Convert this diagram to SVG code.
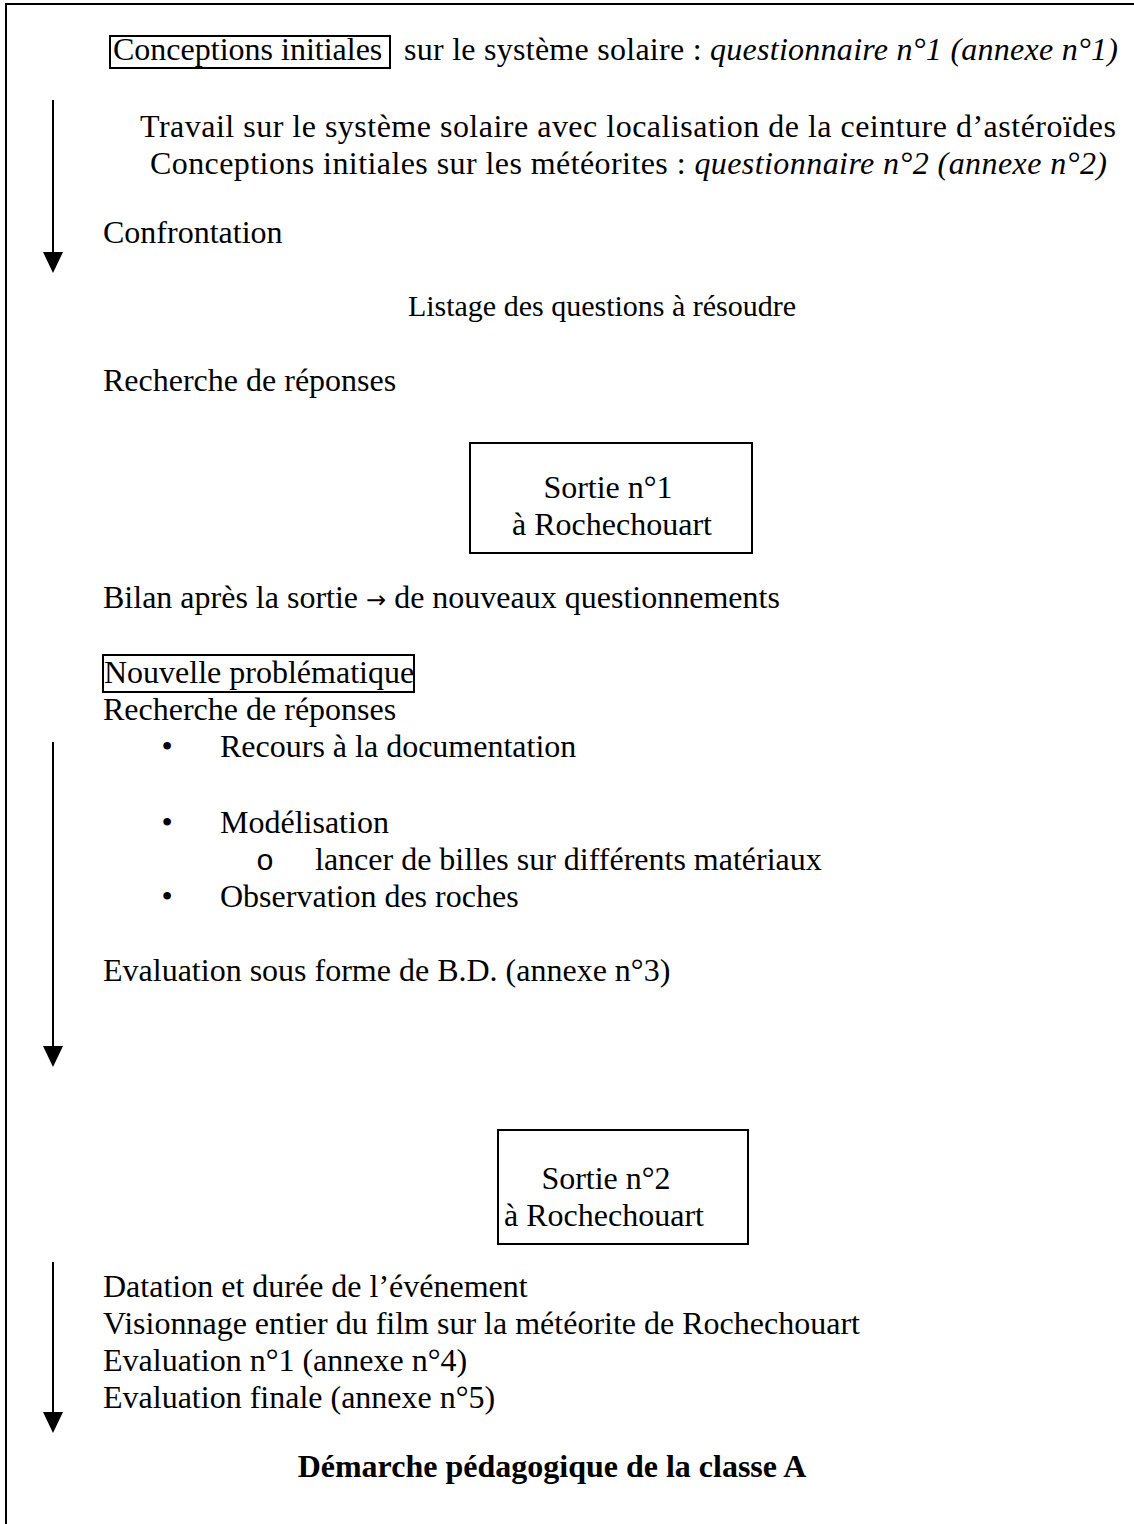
<svg xmlns="http://www.w3.org/2000/svg" width="1134" height="1524" viewBox="0 0 1134 1524">
<style>
text{font-family:"Liberation Serif","Times New Roman",serif;font-size:32px;fill:#000}
.i{font-style:italic}
.b{font-weight:bold}
.box{fill:none;stroke:#000;stroke-width:2}
.mid{text-anchor:middle}
.conn{stroke:#000;stroke-width:2;fill:none}
</style>
<defs>
<marker id="ah" markerUnits="userSpaceOnUse" markerWidth="21" markerHeight="20" refX="0" refY="10" orient="auto" viewBox="0 0 21 20">
<path d="M0,0 L21,10 L0,20 z" fill="#000"/>
</marker>
</defs>
<rect width="1134" height="1524" fill="#fff"/>
<path d="M6,1524 V4 H1134" class="conn" stroke-width="2.5"/>

<g id="connectors">
<line class="conn" x1="53" y1="100" x2="53" y2="252" marker-end="url(#ah)"/>
<line class="conn" x1="53" y1="742" x2="53" y2="1046" marker-end="url(#ah)"/>
<line class="conn" x1="53" y1="1262" x2="53" y2="1412" marker-end="url(#ah)"/>
</g>

<g id="n1">
<rect class="box" x="110" y="36" width="280" height="32"/>
<text x="113" y="60">Conceptions initiales</text>
<text x="404" y="60" textLength="714" lengthAdjust="spacing">sur le système solaire : <tspan class="i">questionnaire n°1 (annexe n°1)</tspan></text>
</g>
<g id="n2">
<text x="140" y="137" textLength="976" lengthAdjust="spacing">Travail sur le système solaire avec localisation de la ceinture d’astéroïdes</text>
<text x="150" y="174" textLength="957" lengthAdjust="spacing">Conceptions initiales sur les météorites : <tspan class="i">questionnaire n°2 (annexe n°2)</tspan></text>
</g>
<g id="n3"><text x="103" y="243">Confrontation</text></g>
<g id="n4"><text class="mid" x="602" y="316" style="font-size:30px">Listage des questions à résoudre</text></g>
<g id="n5"><text x="103" y="391">Recherche de réponses</text></g>
<g id="n6">
<rect class="box" x="470" y="443" width="282" height="110"/>
<text class="mid" x="608" y="498">Sortie n°1</text>
<text class="mid" x="612" y="535">à Rochechouart</text>
</g>
<g id="n7"><text x="103" y="608">Bilan après la sortie <tspan style="font-family:'DejaVu Sans',sans-serif;font-size:24px">→</tspan> de nouveaux questionnements</text></g>
<g id="n8">
<rect class="box" x="103" y="655" width="311" height="37"/>
<text x="104" y="683">Nouvelle problématique</text>
</g>
<g id="n9">
<text x="103" y="720">Recherche de réponses</text>
<text class="mid" x="167" y="757">•</text><text x="220" y="757">Recours à la documentation</text>
<text class="mid" x="167" y="833">•</text><text x="220" y="833">Modélisation</text>
<text class="mid" x="265" y="870" style="font-family:'Liberation Mono',monospace;font-size:30px">o</text><text x="315" y="870">lancer de billes sur différents matériaux</text>
<text class="mid" x="167" y="907">•</text><text x="220" y="907">Observation des roches</text>
</g>
<g id="n10"><text x="103" y="981">Evaluation sous forme de B.D. (annexe n°3)</text></g>
<g id="n11">
<rect class="box" x="498" y="1130" width="250" height="114"/>
<text class="mid" x="606" y="1189">Sortie n°2</text>
<text class="mid" x="604" y="1226">à Rochechouart</text>
</g>
<g id="n12">
<text x="103" y="1297">Datation et durée de l’événement</text>
<text x="103" y="1334">Visionnage entier du film sur la météorite de Rochechouart</text>
<text x="103" y="1371">Evaluation n°1 (annexe n°4)</text>
<text x="103" y="1408">Evaluation finale (annexe n°5)</text>
</g>
<g id="n13"><text class="mid b" x="552" y="1477">Démarche pédagogique de la classe A</text></g>
</svg>
